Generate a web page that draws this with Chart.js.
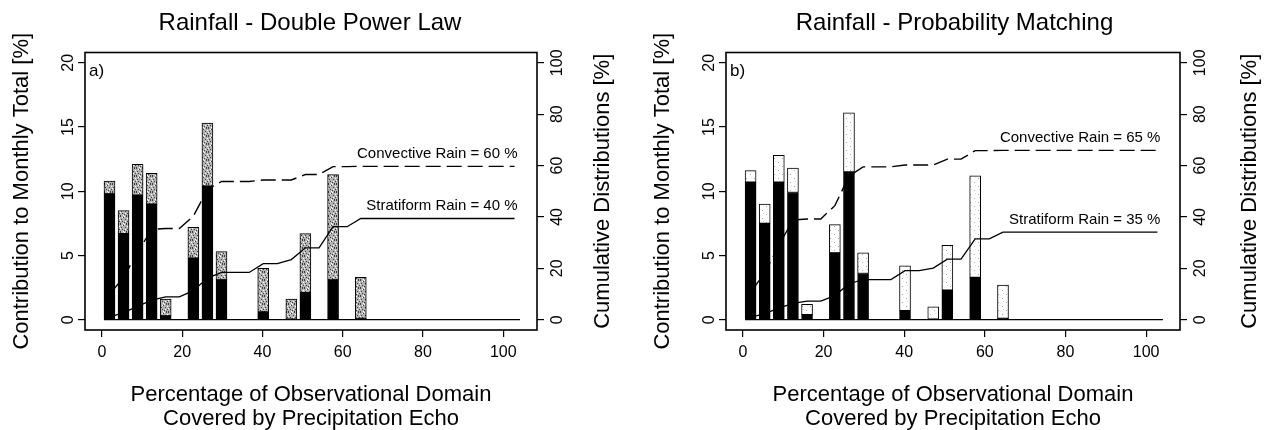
<!DOCTYPE html>
<html>
<head>
<meta charset="utf-8">
<title>Rainfall - contribution to monthly total</title>
<script src="https://cdn.jsdelivr.net/npm/chart.js@4.4.1/dist/chart.umd.min.js"></script>
<style>
  html, body { margin: 0; padding: 0; background: #fff; }
  #wrap { position: relative; width: 1268px; height: 430px; overflow: hidden; }
  #wrap canvas { position: absolute; top: 0; }
  #chartA { left: 0; }
  #chartB { left: 641px; }
</style>
</head>
<body>
<div id="wrap">
  <canvas id="chartA" width="634" height="430"></canvas>
  <canvas id="chartB" width="627" height="430"></canvas>
</div>
<script>
// Bin centres: percentage of observational domain covered by echo
const binCentres = [1.9, 5.4, 8.9, 12.4, 15.9, 19.3, 22.8, 26.3, 29.8, 33.3,
                    36.7, 40.2, 43.7, 47.2, 50.7, 54.1, 57.6, 61.1, 64.5, 68.0,
                    71.5, 75.0, 78.5, 81.9, 85.4, 88.9, 92.4, 95.8, 99.3, 102.8];

const xTicks = [0, 20, 40, 60, 80, 100];
const contribTicks = [0, 5, 10, 15, 20];
const cumulTicks = [0, 20, 40, 60, 80, 100];

// a) Double power law - contribution to monthly total [%]
const dplConvective = [9.8, 6.7, 9.7, 9.0, 0.3, 0, 4.8, 10.4, 3.1, 0,
                       0, 0.6, 0, 0, 2.1, 0, 3.1, 0, 0.1, 0,
                       0, 0, 0, 0, 0, 0, 0, 0, 0, 0];
const dplStratiform = [1.0, 1.8, 2.4, 2.4, 1.3, 0, 2.4, 4.9, 2.2, 0,
                       0, 3.4, 0, 1.6, 4.6, 0, 8.2, 0, 3.2, 0,
                       0, 0, 0, 0, 0, 0, 0, 0, 0, 0];
// a) cumulative distributions [%]
const dplConvCum = [9.8, 16.5, 26.2, 35.2, 35.5, 35.5, 40.3, 50.7, 53.8, 53.8,
                    53.8, 54.4, 54.4, 54.4, 56.5, 56.5, 59.6, 59.6, 59.7, 59.7,
                    59.7, 59.7, 59.7, 59.7, 59.7, 59.7, 59.7, 59.7, 59.7, 59.7];
const dplStratCum = [1.0, 2.8, 5.2, 7.6, 8.9, 8.9, 11.3, 16.2, 18.4, 18.4,
                     18.4, 21.8, 21.8, 23.4, 28.0, 28.0, 36.2, 36.2, 39.4, 39.4,
                     39.4, 39.4, 39.4, 39.4, 39.4, 39.4, 39.4, 39.4, 39.4, 39.4];
const dplShares = [60, 40];

// b) Probability matching - contribution to monthly total [%]
const pmConvective = [10.7, 7.5, 10.7, 9.9, 0.4, 0, 5.2, 11.5, 3.6, 0,
                      0, 0.7, 0, 0, 2.3, 0, 3.3, 0, 0.1, 0,
                      0, 0, 0, 0, 0, 0, 0, 0, 0, 0];
const pmStratiform = [0.9, 1.5, 2.1, 1.9, 0.8, 0, 2.2, 4.6, 1.6, 0,
                      0, 3.5, 0, 1.0, 3.5, 0, 7.9, 0, 2.6, 0,
                      0, 0, 0, 0, 0, 0, 0, 0, 0, 0];
// b) cumulative distributions [%]
const pmConvCum = [10.7, 18.2, 28.9, 38.8, 39.2, 39.2, 44.4, 55.9, 59.5, 59.5,
                   59.5, 60.2, 60.2, 60.2, 62.5, 62.5, 65.8, 65.8, 65.9, 65.9,
                   65.9, 65.9, 65.9, 65.9, 65.9, 65.9, 65.9, 65.9, 65.9, 65.9];
const pmStratCum = [0.9, 2.4, 4.5, 6.4, 7.2, 7.2, 9.4, 14.0, 15.6, 15.6,
                    15.6, 19.1, 19.1, 20.1, 23.6, 23.6, 31.5, 31.5, 34.1, 34.1,
                    34.1, 34.1, 34.1, 34.1, 34.1, 34.1, 34.1, 34.1, 34.1, 34.1];
const pmShares = [65, 35];

const FONT = '"Liberation Sans", Arial, Helvetica, sans-serif';
Chart.defaults.font.family = FONT;
Chart.defaults.color = '#000';

/**
 * Small repeating speckle used for the stratiform part of the bars.
 * darkDots / lightDots are fixed pixel offsets inside an 8x8 tile.
 */
function makeStipple(base, dark, darkDots, light, lightDots) {
    const c = document.createElement('canvas');
    c.width = 8; c.height = 8;
    const g = c.getContext('2d');
    g.fillStyle = base;
    g.fillRect(0, 0, 8, 8);
    g.fillStyle = dark;
    darkDots.forEach(p => g.fillRect(p[0], p[1], 1, 1));
    g.fillStyle = light;
    lightDots.forEach(p => g.fillRect(p[0], p[1], 1, 1));
    return g.createPattern(c, 'repeat');
}

function toPoints(values) {
    return binCentres.map((x, i) => ({ x: x, y: values[i] }));
}

// box, zero line, panel letter, rain labels, right axis title
const panelText = {
    id: 'panelText',
    afterDraw(chart, args, opts) {
        const { ctx, chartArea: area, scales } = chart;
        const xs = scales.x, y2 = scales.y2;
        ctx.save();

        // zero line along the empty bins
        const bars = chart.getDatasetMeta(0).data;
        const first = bars[0], last = bars[bars.length - 1];
        const y0 = scales.y.getPixelForValue(0);
        ctx.strokeStyle = '#000';
        ctx.lineWidth = 1.2;
        ctx.beginPath();
        ctx.moveTo(first.x - first.width / 2, y0);
        ctx.lineTo(last.x + last.width / 2, y0);
        ctx.stroke();

        // frame
        ctx.lineWidth = 1.6;
        ctx.strokeRect(area.left, area.top, area.right - area.left, area.bottom - area.top);

        // panel letter
        ctx.fillStyle = '#000';
        ctx.font = '17px ' + FONT;
        ctx.textAlign = 'left';
        ctx.textBaseline = 'middle';
        ctx.fillText(opts.letter, area.left + 4, area.top + 19);

        // rain share labels
        const xEnd = xs.getPixelForValue(binCentres[binCentres.length - 1]) + 3;
        ctx.font = '15px ' + FONT;
        ctx.textAlign = 'right';
        ctx.textBaseline = 'bottom';
        ctx.fillText('Convective Rain = ' + opts.shares[0] + ' %', xEnd, y2.getPixelForValue(opts.convEnd) - 5);
        ctx.fillText('Stratiform Rain = ' + opts.shares[1] + ' %', xEnd, y2.getPixelForValue(opts.stratEnd) - 5);

        // right axis title, reading upwards
        ctx.font = '22px ' + FONT;
        ctx.textAlign = 'center';
        ctx.textBaseline = 'middle';
        ctx.translate(area.right + opts.rightTitleOffset, (area.top + area.bottom) / 2);
        ctx.rotate(-Math.PI / 2);
        ctx.fillText('Cumulative Distributions [%]', 0, 0);
        ctx.restore();
    }
};

/**
 * Builds one panel: stacked bars on the left axis, cumulative lines on the right axis.
 */
function drawPanel(canvasId, p) {
    const tickGrid = { drawOnChartArea: false, drawTicks: true, tickLength: 7, tickColor: '#000', lineWidth: 1.2, offset: false };
    const ctx = document.getElementById(canvasId).getContext('2d');

    return new Chart(ctx, {
        type: 'bar',
        data: {
            datasets: [
                {
                    label: 'Convective', data: toPoints(p.conv), yAxisID: 'y', order: 1,
                    backgroundColor: '#000', borderColor: '#000', borderWidth: 1,
                    borderSkipped: false, barThickness: 11
                },
                {
                    label: 'Stratiform', data: toPoints(p.strat), yAxisID: 'y', order: 1,
                    backgroundColor: p.stipple, borderColor: '#000', borderWidth: 1,
                    borderSkipped: false, barThickness: 11
                },
                {
                    type: 'line', label: 'Convective cumulative', data: toPoints(p.convCum), yAxisID: 'y2', order: 0,
                    borderColor: '#000', borderWidth: 1.4, borderDash: [15, 6], pointRadius: 0, tension: 0, fill: false
                },
                {
                    type: 'line', label: 'Stratiform cumulative', data: toPoints(p.stratCum), yAxisID: 'y2', order: 0,
                    borderColor: '#000', borderWidth: 1.3, pointRadius: 0, tension: 0, fill: false
                }
            ]
        },
        options: {
            responsive: false,
            animation: false,
            layout: { padding: { left: 0, right: p.padRight, top: 0, bottom: 0 } },
            scales: {
                x: {
                    type: 'linear', position: 'bottom', min: -4.2, max: 108.4, stacked: true, offset: false,
                    afterBuildTicks: s => { s.ticks = xTicks.map(v => ({ value: v })); },
                    afterFit: s => { s.height = 100; },
                    grid: tickGrid,
                    border: { display: false },
                    ticks: { font: { size: 16 }, padding: 6, maxRotation: 0, color: '#000' },
                    title: {
                        display: true,
                        text: ['Percentage of Observational Domain', 'Covered by Precipitation Echo'],
                        font: { size: 22, lineHeight: 1.05 }, padding: { top: 0, bottom: 0 }, color: '#000'
                    }
                },
                y: {
                    position: 'left', min: -0.8, max: 20.8, stacked: true,
                    afterBuildTicks: s => { s.ticks = contribTicks.map(v => ({ value: v })); },
                    afterFit: s => { s.width = 85; },
                    grid: tickGrid,
                    border: { display: false },
                    ticks: { font: { size: 16 }, padding: 1, minRotation: 90, maxRotation: 90, crossAlign: 'center', color: '#000' },
                    title: {
                        display: true, text: 'Contribution to Monthly Total [%]',
                        font: { size: 22 }, padding: { top: 9, bottom: 0 }, color: '#000'
                    }
                },
                y2: {
                    position: 'right', min: -4, max: 104,
                    afterBuildTicks: s => { s.ticks = cumulTicks.map(v => ({ value: v })); },
                    afterFit: s => { s.width = p.rightWidth; },
                    grid: tickGrid,
                    border: { display: false },
                    ticks: { font: { size: 16 }, padding: 0, minRotation: 90, maxRotation: 90, crossAlign: 'center', color: '#000' }
                }
            },
            plugins: {
                legend: { display: false },
                tooltip: { enabled: false },
                title: {
                    display: true, text: p.title, color: '#000',
                    font: { size: 24, weight: 'normal' }, padding: { top: 9, bottom: 14.7 }
                },
                panelText: {
                    letter: p.letter, shares: p.shares,
                    convEnd: p.convCum[p.convCum.length - 1],
                    stratEnd: p.stratCum[p.stratCum.length - 1],
                    rightTitleOffset: p.rightTitleOffset
                }
            }
        },
        plugins: [panelText]
    });
}

drawPanel('chartA', {
    title: 'Rainfall - Double Power Law', letter: 'a)',
    conv: dplConvective, strat: dplStratiform, convCum: dplConvCum, stratCum: dplStratCum,
    shares: dplShares,
    stipple: makeStipple('#b4b4b4', '#3c3c3c',
        [[0, 0], [3, 1], [6, 0], [1, 3], [5, 3], [2, 5], [7, 5], [4, 6], [0, 7], [6, 7]],
        '#ffffff', [[2, 1], [5, 5], [0, 4], [4, 0], [7, 2], [3, 7]]),
    padRight: 14, rightWidth: 83, rightTitleOffset: 66
});

drawPanel('chartB', {
    title: 'Rainfall - Probability Matching', letter: 'b)',
    conv: pmConvective, strat: pmStratiform, convCum: pmConvCum, stratCum: pmStratCum,
    shares: pmShares,
    stipple: makeStipple('#ffffff', '#a8a8a8', [[1, 2], [5, 6]], '#e2e2e2', [[6, 1], [2, 5]]),
    padRight: 0, rightWidth: 88, rightTitleOffset: 70
});
</script>
</body>
</html>
